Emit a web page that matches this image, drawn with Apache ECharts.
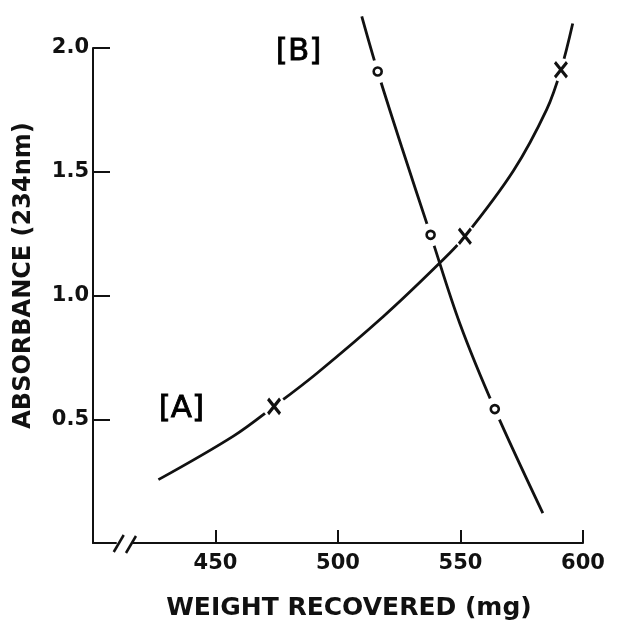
<!DOCTYPE html>
<html>
<head>
<meta charset="utf-8">
<script src="https://cdn.jsdelivr.net/npm/echarts@6/dist/echarts.min.js"></script>
<style>
html,body{margin:0;padding:0;background:#fff;}
#c{width:618px;height:626px;}
</style>
</head>
<body>
<div id="c"></div>
<script>
// X-axis tick values and Y-axis tick values
const xTicks = [450, 500, 550, 600];
const yTicks = [0.5, 1.0, 1.5, 2.0];

// Curve A (rising, "x" markers)
const curveA = [[426.7,0.256],[457.3,0.432],[473.9,0.552],[491.3,0.685],[518.5,0.915],[541.6,1.132],[551.8,1.239],[571.6,1.504],[585.2,1.752],[591.0,1.912],[595.8,2.099]];
// Measured points A ("x")
const pointsA = [[473.9,0.552],[551.8,1.239],[591.0,1.912]];

// Curve B (falling, "o" markers)
const curveB = [[509.7,2.128],[516.2,1.905],[526,1.60],[537.8,1.245],[549.8,0.885],[564.0,0.541],[583.6,0.121]];
// Measured points B ("o")
const pointsB = [[516.2,1.905],[537.8,1.245],[564.0,0.541]];

// Curve labels
const labels = [{name:'[A]', value:[436.1,0.54]},{name:'[B]', value:[483.9,1.984]}];

const FONT = 'DejaVu Sans';
const INK = '#111';
const chart = echarts.init(document.getElementById('c'), null, {renderer:'canvas'});
const option = {
  animation:false,
  backgroundColor:'#fff',
  grid:{left:93, right:35, top:48, bottom:78},
  xAxis:{
    type:'value', min:400, max:600, interval:50,
    name:'WEIGHT RECOVERED (mg)', nameLocation:'middle', nameGap:53,
    nameTextStyle:{fontFamily:FONT, fontSize:25, color:INK, fontWeight:'bold', padding:[0,0,0,22]},
    axisLine:{lineStyle:{color:INK, width:2}},
    axisTick:{inside:true, length:13, lineStyle:{color:INK, width:2}},
    axisLabel:{fontFamily:FONT, fontSize:21, color:INK, fontWeight:'bold', margin:10,
      formatter:v => xTicks.indexOf(v) >= 0 ? String(v) : ''},
    splitLine:{show:false}
  },
  yAxis:{
    type:'value', min:0, max:2.0, interval:0.5,
    name:'ABSORBANCE (234nm)', nameLocation:'middle', nameGap:57,
    nameTextStyle:{fontFamily:FONT, fontSize:24, color:INK, fontWeight:'bold', padding:[0,0,0,40]},
    axisLine:{lineStyle:{color:INK, width:2}},
    axisTick:{inside:true, length:17, lineStyle:{color:INK, width:2}},
    axisLabel:{fontFamily:FONT, fontSize:21, color:INK, fontWeight:'bold', margin:4,
      formatter:v => yTicks.indexOf(v) >= 0 ? v.toFixed(1) : ''},
    splitLine:{show:false}
  },
  series:[
    {type:'line', data:curveA, smooth:0.35, showSymbol:false, clip:false, z:2,
      lineStyle:{color:INK, width:2.8}},
    {type:'line', data:curveB, smooth:0.35, showSymbol:false, clip:false, z:2,
      lineStyle:{color:INK, width:2.8}},
    {type:'scatter', data:pointsA.concat(pointsB), symbol:'circle', symbolSize:23, z:3,
      itemStyle:{color:'#fff', opacity:1}, silent:true},
    {type:'scatter', data:pointsA, z:4,
      symbol:'path://M0,0L10,12M10,0L0,12', symbolSize:[12,15],
      itemStyle:{color:INK, borderColor:INK, borderWidth:3.2, opacity:1}},
    {type:'scatter', data:pointsB, z:4, symbol:'circle', symbolSize:8,
      itemStyle:{color:'#fff', borderColor:INK, borderWidth:2.6, opacity:1}},
    {type:'scatter', data:labels, symbolSize:0, z:5, itemStyle:{opacity:1},
      label:{show:true, position:'inside', formatter:p => p.name,
        fontFamily:FONT, fontSize:31, color:'#000', opacity:1,
        textBorderColor:'#000', textBorderWidth:0.8}}
  ]
};
chart.setOption(option);

// axis break marks on the x axis
const y0 = chart.convertToPixel({yAxisIndex:0}, 0);
const xa = chart.convertToPixel({xAxisIndex:0}, 410.5);
const xb = chart.convertToPixel({xAxisIndex:0}, 415.5);
chart.setOption({
  graphic:[
    {type:'rect', shape:{x:xa-2, y:y0-3, width:(xb-xa)+4, height:6}, style:{fill:'#fff'}, z:10},
    {type:'line', shape:{x1:xa-5, y1:y0+9, x2:xa+5, y2:y0-8}, style:{stroke:INK, lineWidth:2.5}, z:11},
    {type:'line', shape:{x1:xb-5, y1:y0+10, x2:xb+5, y2:y0-7}, style:{stroke:INK, lineWidth:2.5}, z:11}
  ]
});
</script>
</body>
</html>
